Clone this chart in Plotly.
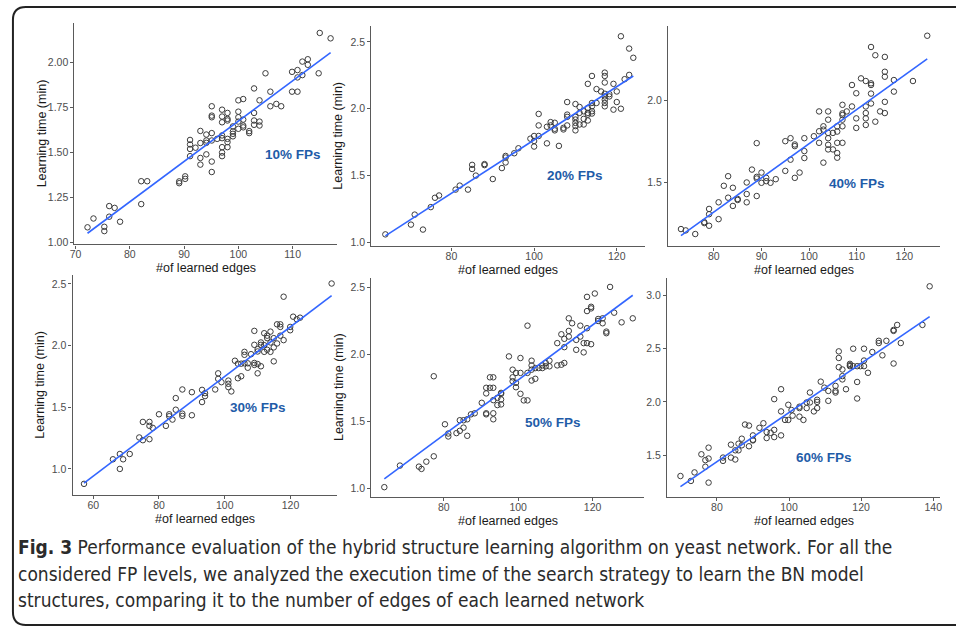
import plotly.graph_objects as go

W, H = 956, 628

# ---------------- data ----------------
pts10 = [(72.2,1.085),(73.3,1.134),(75.3,1.088),(75.3,1.064),(76.2,1.203),(76.2,1.144),(77.2,1.193),(78.2,1.116),
         (82.1,1.341),(83.2,1.341),(82.1,1.214),(89.1,1.34),(89.1,1.33),(90.2,1.368),(90.2,1.354),
         (91.1,1.57),(91.1,1.545),(91.1,1.52),(91.1,1.48),(92.1,1.527),(93.0,1.62),(93.0,1.553),(93.0,1.47),(93.0,1.433),
         (94.1,1.6),(94.1,1.567),(94.1,1.554),(94.1,1.49),(95.1,1.757),(95.1,1.705),(95.1,1.696),(95.1,1.608),(95.1,1.567),
         (95.1,1.45),(95.1,1.392),(96.1,1.576),(97.0,1.738),(97.0,1.70),(97.0,1.668),(97.0,1.595),(97.0,1.58),(97.0,1.53),
         (97.0,1.50),(97.0,1.48),(98.0,1.72),(98.0,1.687),(98.0,1.678),(98.0,1.576),(98.0,1.558),(98.0,1.53),
         (99.0,1.645),(99.0,1.617),(99.0,1.604),(99.0,1.59),(100.0,1.79),(100.0,1.727),(100.0,1.696),(100.0,1.672),(100.0,1.632),
         (100.9,1.797),(100.9,1.683),(100.9,1.65),(100.9,1.64),(102.0,1.619),(102.0,1.608),(102.9,1.856),(102.9,1.72),
         (102.9,1.678),(102.9,1.654),(103.9,1.79),(103.9,1.672),(103.9,1.65),(105.0,1.94),(105.9,1.838),(105.9,1.757),
         (107.0,1.77),(107.9,1.757),(109.9,1.948),(109.9,1.838),(110.9,1.958),(110.9,1.917),(110.9,1.838),(111.8,2.005),
         (111.8,1.93),(112.8,2.018),(112.8,1.987),(114.8,1.94),(115.0,2.164),(117.0,2.134)]

pts20 = [(64.0,1.06),(70.2,1.133),(71.1,1.208),(73.1,1.096),(75.0,1.264),(76.0,1.334),(77.0,1.351),(81.0,1.395),
         (82.0,1.425),(84.0,1.395),(85.0,1.58),(85.0,1.549),(85.9,1.5),(88.0,1.586),(88.0,1.578),(90.0,1.474),(92.2,1.556),
         (93.1,1.598),(93.1,1.647),(93.1,1.635),(95.2,1.667),(96.2,1.704),(99.1,1.776),(100.0,1.796),(100.0,1.759),
         (100.0,1.717),(101.1,1.875),(101.1,1.961),(101.1,1.796),(103.1,1.865),(103.1,1.741),(104.0,1.9),(104.0,1.875),
         (105.0,1.895),(105.0,1.85),(105.0,1.838),(106.0,1.722),(107.1,1.857),(107.1,1.845),(108.0,2.05),(108.0,1.956),
         (108.0,1.939),(108.0,1.875),(110.0,2.035),(110.0,1.939),(110.0,1.919),(110.0,1.894),(110.0,1.87),(110.0,1.838),
         (111.0,2.013),(111.0,1.969),(111.0,1.882),(112.0,1.981),(112.0,1.924),(112.0,1.882),(113.0,2.186),(113.0,2.006),
         (113.0,1.969),(113.0,1.956),(113.0,1.912),(114.0,2.245),(114.0,2.043),(114.0,2.018),(114.0,1.981),(114.0,1.964),
         (115.1,2.147),(115.1,2.043),(116.2,2.129),(117.1,2.27),(117.1,2.245),(117.1,2.196),(117.1,2.112),(117.1,2.092),
         (117.1,2.067),(117.1,2.043),(117.1,2.018),(118.2,2.109),(118.2,2.092),(119.2,2.186),(119.2,1.993),(120.0,2.129),
         (120.0,2.05),(121.0,2.542),(121.0,2.0),(121.9,2.221),(123.0,2.253),(123.0,2.45),(124.0,2.381)]

pts40 = [(73.1,1.22),(74.1,1.212),(76.1,1.19),(78.0,1.262),(78.0,1.256),(79.0,1.24),(79.0,1.342),(79.0,1.31),
         (81.0,1.382),(81.0,1.28),(82.1,1.482),(83.0,1.54),(83.0,1.41),(84.0,1.47),(84.0,1.36),(85.0,1.396),(85.0,1.402),
         (86.9,1.502),(86.9,1.432),(86.9,1.382),(88.0,1.58),(89.0,1.74),(89.0,1.536),(89.0,1.526),(89.0,1.42),
         (90.0,1.562),(90.0,1.5),(91.0,1.53),(91.0,1.51),(91.9,1.5),(93.0,1.522),(95.0,1.752),(95.0,1.572),(96.1,1.77),
         (96.1,1.64),(97.0,1.732),(97.0,1.722),(97.0,1.53),(98.0,1.562),(99.0,1.77),(99.0,1.692),(99.0,1.65),(101.0,1.782),
         (102.1,1.932),(102.1,1.812),(102.1,1.742),(103.0,1.842),(103.0,1.822),(103.0,1.622),(104.0,1.932),(104.0,1.882),
         (104.0,1.802),(104.0,1.77),(104.0,1.73),(104.0,1.702),(105.0,1.802),(105.0,1.702),(105.9,1.842),(105.9,1.81),
         (105.9,1.742),(105.9,1.68),(105.9,1.652),(107.0,1.972),(107.0,1.92),(107.0,1.91),(107.0,1.882),(107.0,1.842),
         (107.0,1.742),(107.9,1.932),(109.0,2.092),(109.0,1.962),(109.9,2.042),(109.9,1.89),(109.9,1.832),(110.9,2.132),
         (111.9,2.116),(111.9,1.962),(111.9,1.922),(111.9,1.89),(111.9,1.85),(113.0,2.322),(113.0,2.102),(113.0,2.092),
         (113.0,2.04),(113.0,1.98),(113.9,2.272),(113.9,1.87),(114.9,1.932),(115.9,2.262),(115.9,2.172),(115.9,2.142),
         (115.9,1.99),(115.9,1.922),(117.8,2.122),(117.8,2.052),(121.8,2.116),(124.8,2.39)]

pts30 = [(57.2,0.879),(66.0,1.078),(68.1,1.121),(68.1,1.0),(69.1,1.078),(71.1,1.121),(74.0,1.255),(75.1,1.381),
         (75.1,1.233),(77.1,1.381),(77.1,1.349),(77.1,1.241),(78.1,1.333),(80.0,1.443),(82.1,1.349),(83.1,1.443),
         (83.1,1.427),(84.1,1.4),(85.1,1.574),(85.1,1.48),(87.1,1.644),(87.1,1.448),(87.1,1.43),(90.0,1.622),(90.0,1.435),
         (93.1,1.641),(93.1,1.542),(94.0,1.614),(94.0,1.59),(97.1,1.644),(98.0,1.775),(98.0,1.73),(99.0,1.703),
         (101.1,1.716),(101.1,1.69),(101.1,1.663),(102.0,1.628),(103.1,1.877),(104.0,1.735),(104.0,1.853),(105.0,1.853),
         (105.0,1.751),(106.0,1.856),(106.0,1.949),(106.0,1.925),(107.0,1.856),(107.0,1.82),(108.0,1.93),(109.0,2.119),
         (109.0,2.006),(109.0,1.859),(109.0,1.843),(110.0,1.971),(110.0,1.952),(110.0,1.85),(110.0,1.775),(111.0,2.025),
         (111.0,2.006),(111.0,1.832),(112.0,1.949),(112.0,2.003),(112.0,2.1),(112.9,2.06),(112.9,1.966),(112.9,2.08),
         (113.9,2.113),(113.9,2.025),(113.9,1.949),(114.9,2.06),(114.9,1.985),(114.9,1.872),(115.9,2.017),(115.9,2.172),
         (116.9,2.172),(116.9,2.151),(116.9,2.08),(117.9,2.396),(117.9,2.044),(119.9,2.151),(119.9,2.124),(120.8,2.234),
         (121.9,2.213),(122.9,2.226),(132.5,2.503)]

pts50 = [(64.0,1.012),(68.2,1.173),(73.3,1.165),(74.0,1.148),(75.3,1.202),(77.3,1.839),(77.3,1.242),(80.3,1.481),
         (81.2,1.412),(81.2,1.39),(83.4,1.415),(84.3,1.511),(84.3,1.432),(85.3,1.511),(85.3,1.456),(86.3,1.395),
         (86.3,1.518),(87.3,1.555),(88.3,1.563),(90.2,1.641),(91.4,1.711),(91.4,1.563),(91.4,1.555),(91.4,1.753),
         (92.4,1.831),(92.4,1.753),(93.3,1.831),(93.3,1.753),(93.3,1.661),(93.3,1.563),(93.3,1.518),(94.4,1.678),
         (94.4,1.624),(95.4,1.715),(95.4,1.708),(95.4,1.666),(95.4,1.629),(97.5,1.987),(98.5,1.888),(98.5,1.831),
         (98.5,1.802),(99.4,1.864),(99.4,1.79),(99.4,1.757),(100.6,1.975),(100.6,1.864),(100.6,1.708),(101.5,1.659),
         (102.5,1.659),(102.5,2.216),(102.5,1.864),(103.6,1.955),(103.6,1.92),(103.6,1.888),(103.6,1.807),(104.6,1.82),
         (104.6,1.9),(105.5,1.9),(106.5,1.9),(106.5,1.92),(107.4,1.938),(107.4,1.913),(108.4,1.955),(108.4,1.913),
         (110.5,2.086),(110.5,1.92),(111.6,2.152),(111.6,1.925),(112.4,2.118),(112.4,2.056),(112.4,1.938),(113.6,2.271),
         (113.6,2.177),(113.6,2.135),(114.5,2.234),(115.6,2.11),(115.6,2.036),(116.7,2.216),(116.7,2.135),(117.6,2.086),
         (117.6,2.017),(118.5,2.431),(118.5,2.325),(118.5,2.197),(118.5,2.086),(119.6,2.357),(119.6,2.345),(119.6,2.078),
         (120.6,2.456),(121.5,2.266),(121.5,2.251),(122.7,2.271),(122.7,2.234),(123.7,2.172),(123.7,2.16),(124.7,2.505),
         (125.8,2.313),(127.8,2.241),(130.8,2.271)]

pts60 = [(69.9,1.305),(72.8,1.259),(73.8,1.339),(75.7,1.509),(76.8,1.454),(76.8,1.392),(77.7,1.571),(77.7,1.469),
         (77.7,1.243),(81.7,1.478),(81.7,1.447),(83.9,1.599),(83.9,1.478),(85.1,1.546),(85.1,1.46),(86.0,1.608),
         (86.0,1.546),(86.9,1.655),(86.9,1.593),(87.8,1.788),(88.9,1.778),(88.9,1.584),(90.0,1.686),(90.0,1.645),
         (90.0,1.639),(91.8,1.757),(92.9,1.8),(93.8,1.717),(93.8,1.661),(94.9,1.71),(95.9,2.026),(95.9,1.738),(95.9,1.67),
         (97.8,2.119),(97.8,1.911),(97.8,1.686),(98.9,1.831),(99.8,1.973),(99.8,1.831),(100.7,1.924),(101.0,1.871),
         (102.9,1.955),(102.9,1.942),(102.9,1.862),(104.0,1.831),(104.9,1.995),(104.9,1.942),(105.8,2.088),(105.8,1.995),
         (106.9,1.911),(107.8,2.02),(107.8,2.0),(107.8,1.942),(108.8,2.19),(109.8,2.134),(110.9,2.01),(110.9,2.103),
         (112.9,2.15),(112.9,2.103),(112.9,2.088),(113.8,2.474),(113.8,2.412),(113.8,2.326),(114.8,2.242),(114.8,2.211),
         (114.8,2.304),(115.8,2.119),(116.9,2.357),(116.9,2.344),(116.9,2.335),(117.8,2.499),(117.8,2.335),(118.9,2.187),
         (118.9,2.032),(118.9,2.335),(119.8,2.335),(120.8,2.499),(120.8,2.388),(120.8,2.335),(121.9,2.273),(123.1,2.468),
         (124.9,2.573),(124.9,2.552),(125.9,2.437),(127.0,2.573),(129.0,2.675),(129.0,2.666),(129.0,2.36),(130.0,2.722),
         (131.0,2.552),(137.0,2.722),(139.0,3.084)]

# fitted regression lines (end points)
fit10_x, fit10_y = [72.2, 117.0], [1.052, 2.055]
fit20_x, fit20_y = [64.0, 124.0], [1.049, 2.245]
fit40_x, fit40_y = [73.1, 124.8], [1.18, 2.25]
fit30_x, fit30_y = [57.2, 132.5], [0.885, 2.405]
fit50_x, fit50_y = [64.0, 130.8], [1.074, 2.443]
fit60_x, fit60_y = [69.9, 139.0], [1.206, 2.80]

panel_labels = ["10% FPs", "20% FPs", "40% FPs", "30% FPs", "50% FPs", "60% FPs"]

xt10, yt10 = [70, 80, 90, 100, 110], [1.00, 1.25, 1.50, 1.75, 2.00]
xt20, yt20 = [80, 100, 120], [1.0, 1.5, 2.0, 2.5]
xt40, yt40 = [80, 90, 100, 110, 120], [1.5, 2.0]
xt30, yt30 = [60, 80, 100, 120], [1.0, 1.5, 2.0, 2.5]
xt50, yt50 = [80, 100, 120], [1.0, 1.5, 2.0, 2.5]
xt60, yt60 = [80, 100, 120, 140], [1.5, 2.0, 2.5, 3.0]

x_title = "#of learned edges"
y_title = "Learning time (min)"
caption_lines = [
    "<b>Fig. 3</b> Performance evaluation of the hybrid structure learning algorithm on yeast network. For all the",
    "considered FP levels, we analyzed the execution time of the search strategy to learn the BN model",
    "structures, comparing it to the number of edges of each learned network",
]

# ---------------- layout helpers ----------------
def px(x):
    return x / W

def py(y):
    return 1 - y / H

# panel geometry in pixels: (left, right, top, bottom), axis ranges, label centre, y-title flag
panels = [
    dict(pts=pts10, fx=fit10_x, fy=fit10_y, xt=xt10, yt=yt10, yfmt=".2f", box=(70, 334, 23, 246),
         xr=[69.8, 118.1], yr=[0.99, 2.22], lab=(290, 155), ytitle=True),
    dict(pts=pts20, fx=fit20_x, fy=fit20_y, xt=xt20, yt=yt20, yfmt=".1f", box=(369, 645, 26, 248),
         xr=[60.6, 126.9], yr=[0.97, 2.62], lab=(574, 177), ytitle=True),
    dict(pts=pts40, fx=fit40_x, fy=fit40_y, xt=xt40, yt=yt40, yfmt=".1f", box=(668, 942, 26, 248),
         xr=[70.4, 127.5], yr=[1.115, 2.45], lab=(858, 185), ytitle=False),
    dict(pts=pts30, fx=fit30_x, fy=fit30_y, xt=xt30, yt=yt30, yfmt=".1f", box=(68, 334, 277, 498),
         xr=[53.7, 134.0], yr=[0.79, 2.57], lab=(255, 410), ytitle=True),
    dict(pts=pts50, fx=fit50_x, fy=fit50_y, xt=xt50, yt=yt50, yfmt=".1f", box=(369, 644, 280, 500),
         xr=[60.5, 133.9], yr=[0.94, 2.57], lab=(552, 425), ytitle=True),
    dict(pts=pts60, fx=fit60_x, fy=fit60_y, xt=xt60, yt=yt60, yfmt=".1f", box=(667, 942, 280, 500),
         xr=[66.2, 141.9], yr=[1.11, 3.16], lab=(825, 460), ytitle=False),
]

FONT = "Liberation Sans, Arial, sans-serif"
AXCOL = "#5a5a5a"

fig = go.Figure()
annotations = []

for i, p in enumerate(panels):
    n = i + 1
    xa = "x" if n == 1 else f"x{n}"
    ya = "y" if n == 1 else f"y{n}"
    xs = [a for a, b in p["pts"]]
    ys = [b for a, b in p["pts"]]
    fig.add_trace(go.Scatter(
        x=xs, y=ys, mode="markers", xaxis=xa, yaxis=ya, showlegend=False,
        marker=dict(symbol="circle-open", size=5.5, color="#3c3c3c", line=dict(width=1)),
        hoverinfo="skip"))
    fig.add_trace(go.Scatter(
        x=p["fx"], y=p["fy"], mode="lines", xaxis=xa, yaxis=ya, showlegend=False,
        line=dict(color="#3366FF", width=1.6), hoverinfo="skip"))

    l, r, t, b = p["box"]
    common = dict(showline=True, linecolor=AXCOL, linewidth=1.3, ticks="outside", ticklen=3,
                  tickcolor=AXCOL, tickwidth=1, showgrid=False, zeroline=False,
                  tickfont=dict(family=FONT, size=10.5, color="#4d4d4d"))
    xkey = "xaxis" if n == 1 else f"xaxis{n}"
    ykey = "yaxis" if n == 1 else f"yaxis{n}"
    fig.update_layout(**{
        xkey: dict(domain=[px(l), px(r)], anchor=ya, range=p["xr"], tickvals=p["xt"],
                   ticktext=[str(v) for v in p["xt"]], ticklabelstandoff=-3, **common),
        ykey: dict(domain=[py(b), py(t)], anchor=xa, range=p["yr"], tickvals=p["yt"],
                   ticktext=[format(v, p["yfmt"]) for v in p["yt"]], **common),
    })

    # panel label
    annotations.append(dict(x=px(p["lab"][0]), y=py(p["lab"][1]), xref="paper", yref="paper",
                            text=f"<b>{panel_labels[i]}</b>", showarrow=False,
                            font=dict(family=FONT, size=13.5, color="#1f5ca8"),
                            xanchor="center", yanchor="middle"))
    # x title
    annotations.append(dict(x=px((l + r) / 2), y=py(b + 24), xref="paper", yref="paper",
                            text=x_title, showarrow=False,
                            font=dict(family=FONT, size=12.5, color="#1a1a1a"),
                            xanchor="center", yanchor="middle"))
    if p["ytitle"]:
        annotations.append(dict(x=px(l - 33), y=py((t + b) / 2), xref="paper", yref="paper",
                                text=y_title, showarrow=False, textangle=-90,
                                font=dict(family=FONT, size=12.5, color="#1a1a1a"),
                                xanchor="center", yanchor="middle"))

# caption
CAP_FONT = "Liberation Sans Narrow, DejaVu Sans Condensed, sans-serif"
for k, (line, yy) in enumerate(zip(caption_lines, [551, 578, 604])):
    annotations.append(dict(x=px(11), y=py(yy), xref="paper", yref="paper", text=line,
                            showarrow=False, xanchor="left", yanchor="middle",
                            font=dict(family=CAP_FONT, size=19, color="#2b2b2b")))

# rounded frame
def P(x, y):
    return f"{px(x):.5f},{py(y):.5f}"

frame = (f"M {P(980, 7)} L {P(21, 7)} Q {P(8, 7)} {P(8, 20)} "
         f"L {P(8, 616)} Q {P(8, 629)} {P(21, 629)} L {P(980, 629)}")

fig.update_layout(
    width=W, height=H, margin=dict(l=0, r=0, t=0, b=0),
    paper_bgcolor="white", plot_bgcolor="white",
    annotations=annotations,
    shapes=[dict(type="path", path=frame, xref="paper", yref="paper",
                 line=dict(color="#222222", width=2))],
)

fig.write_html("out.html", config={"displayModeBar": False},
               post_script="document.body.style.margin='0';")
